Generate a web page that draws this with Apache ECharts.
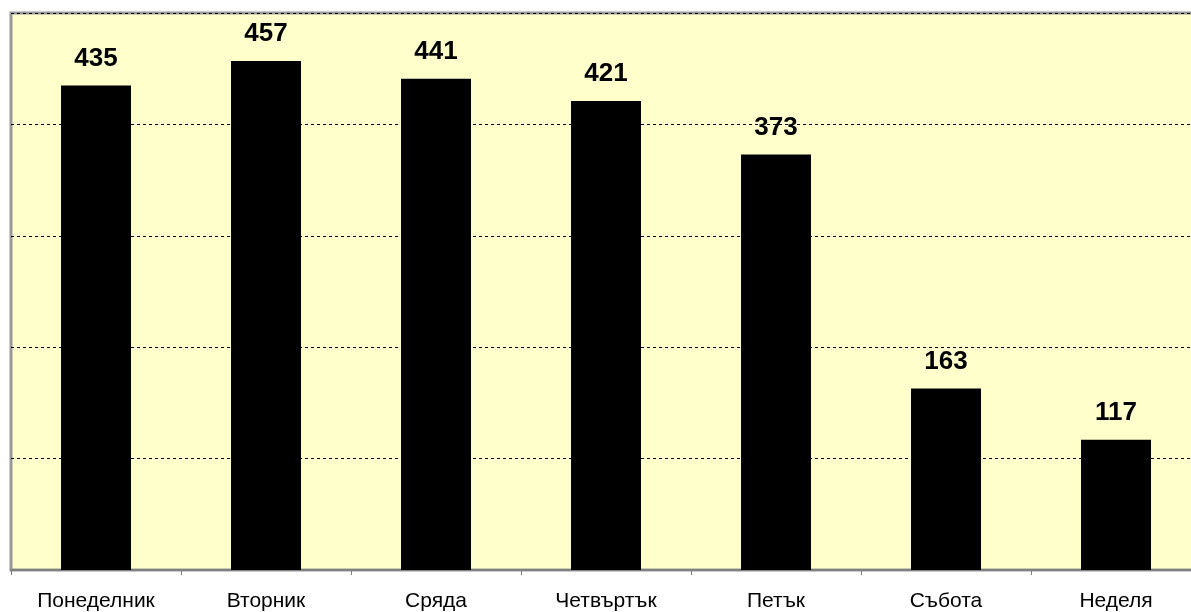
<!DOCTYPE html>
<html>
<head>
<meta charset="utf-8">
<script src="https://cdn.jsdelivr.net/npm/echarts@6/dist/echarts.min.js"></script>
<style>
html, body { margin: 0; padding: 0; background: #fff; }
#chart { width: 1191px; height: 612px; }
</style>
</head>
<body>
<div id="chart"></div>
<script>
// days of the week and counts per day
const days = ['Понеделник', 'Вторник', 'Сряда', 'Четвъртък', 'Петък', 'Събота', 'Неделя']
const counts = [435, 457, 441, 421, 373, 163, 117]

const chart = echarts.init(document.getElementById('chart'))
chart.setOption({
  animation: false,
  grid: {
    left: 11,
    top: 13,
    right: -10,
    bottom: 42,
    outerBoundsMode: 'none',
    show: true,
    backgroundColor: '#ffffcc',
    borderColor: '#999999',
    borderWidth: 3
  },
  xAxis: {
    type: 'category',
    data: days,
    axisLine: { lineStyle: { color: '#808080', width: 2 } },
    axisTick: { show: true, length: 5, lineStyle: { color: '#808080' } },
    axisLabel: {
      color: '#000',
      fontFamily: 'Arial, Liberation Sans',
      fontSize: 21,
      margin: 21
    }
  },
  yAxis: {
    type: 'value',
    min: 0,
    max: 500,
    interval: 100,
    axisLabel: { show: false },
    axisLine: { show: false },
    axisTick: { show: false },
    splitLine: { lineStyle: { color: '#000', type: [3, 3], width: 1 } }
  },
  series: [
    {
      type: 'bar',
      data: counts,
      barWidth: 70,
      itemStyle: { color: '#000' },
      label: {
        show: true,
        position: 'top',
        distance: 14,
        color: '#000',
        fontFamily: 'Arial, Liberation Sans',
        fontWeight: 'bold',
        fontSize: 26
      }
    }
  ]
})
</script>
</body>
</html>
